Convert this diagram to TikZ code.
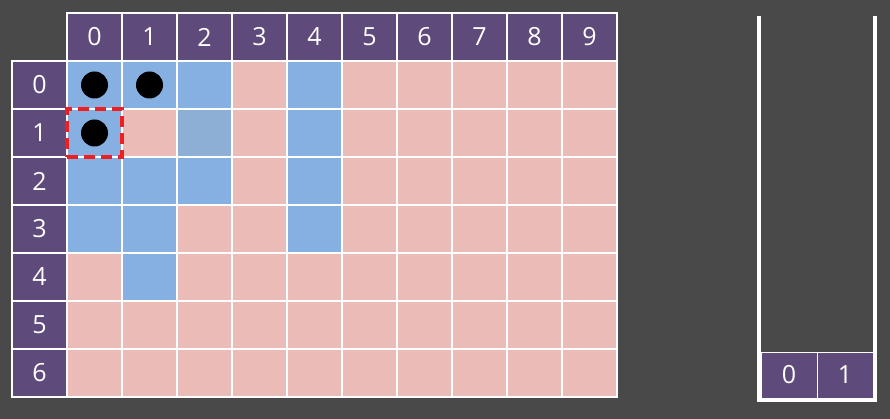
\documentclass[tikz,border=0pt]{standalone}
\usepackage{fontspec}
\setmainfont{Open Sans}
\definecolor{boardbg}{HTML}{4A4949}
\definecolor{headpurple}{HTML}{5F4B7B}
\definecolor{visitblue}{HTML}{86B0E2}
\definecolor{fadeblue}{HTML}{8EAFD5}
\definecolor{openpink}{HTML}{EBBCB7}
\definecolor{markred}{HTML}{F01E1E}
\tikzset{
  cellbox/.style={minimum width=55pt, minimum height=48pt, inner sep=0pt,
    outer sep=0pt, anchor=north west},
  headbox/.style={cellbox, fill=headpurple, draw=white, line width=1.8pt,
    text=white, font=\fontsize{25}{30}\selectfont},
  gridline/.style={draw=white, line width=1.8pt},
  dot/.style={circle, fill=black, minimum size=27pt, inner sep=0pt},
  focusbox/.style={draw=markred, line width=4pt, dash pattern=on 11pt off 6pt,
    minimum width=55pt, minimum height=48pt, inner sep=0pt},
  stackwall/.style={draw=white, line width=4pt},
  stackbox/.style={cellbox, minimum width=56pt, minimum height=46pt,
    fill=headpurple, draw=white, line width=1pt, text=white,
    font=\fontsize{25}{30}\selectfont},
}

\begin{document}
\begin{tikzpicture}[x=1pt, y=-1pt]
  \useasboundingbox[fill=boardbg] (0,0) rectangle (890,419);

  % board cells
  \foreach \c in {0,...,9} {
    \foreach \r in {0,...,6} {
      \node[cellbox, fill=openpink] (cell-\c-\r) at (67+55*\c, 61+48*\r) {};
    }
  }
  \foreach \c/\r in {0/0,1/0,2/0,4/0,0/1,4/1,0/2,1/2,2/2,4/2,0/3,1/3,4/3,1/4}
    \fill[visitblue] (cell-\c-\r.north west) rectangle (cell-\c-\r.south east);
  \fill[fadeblue] (cell-2-1.north west) rectangle (cell-2-1.south east);
  \foreach \c in {0,...,9} {
    \foreach \r in {0,...,6} {
      \draw[gridline] (cell-\c-\r.north west) rectangle (cell-\c-\r.south east);
    }
  }

  % headers
  \foreach \c in {0,...,9}
    \node[headbox] (head-\c) at (67+55*\c, 13) {\c};
  \foreach \r in {0,...,6}
    \node[headbox] (side-\r) at (12, 61+48*\r) {\r};

  % visited marks
  \node[dot] (dot-0-0) at (cell-0-0) {};
  \node[dot] (dot-1-0) at (cell-1-0) {};
  \node[dot] (dot-0-1) at (cell-0-1) {};
  \node[focusbox] (focus) at (cell-0-1) {};

  % stack
  \coordinate (stack-tl) at (759,16);
  \coordinate (stack-bl) at (759,400);
  \coordinate (stack-br) at (875,400);
  \coordinate (stack-tr) at (875,16);
  \draw[stackwall] (stack-tl) -- (stack-bl) -- (stack-br) -- (stack-tr);
  \node[stackbox] (stack-0) at (761,352) {0};
  \node[stackbox] (stack-1) at (817,352) {1};
\end{tikzpicture}
\end{document}
